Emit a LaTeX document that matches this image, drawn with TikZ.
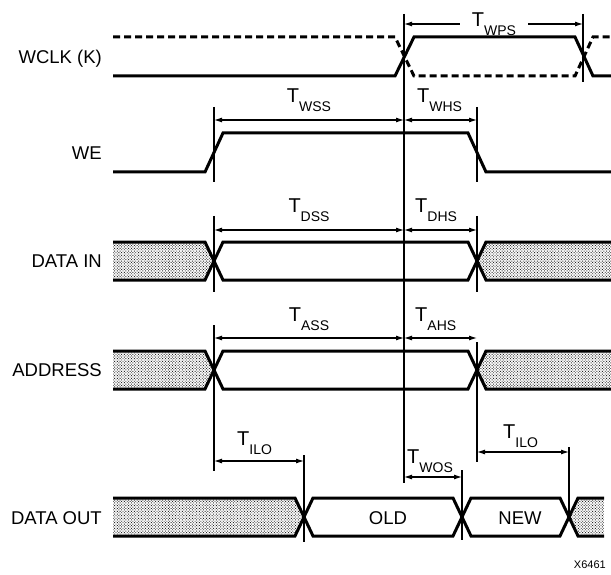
\documentclass[tikz,border=0pt]{standalone}
\usepackage{fontspec}
\setmainfont{Liberation Sans}
\usetikzlibrary{arrows.meta,patterns.meta}

\newcommand{\tlab}[1]{{\fontsize{20}{20}\selectfont T}\raisebox{-9pt}{\fontsize{14}{14}\selectfont #1}}

\tikzset{
  signal/.style={line width=3pt},
  clkalt/.style={line width=3pt, dash pattern=on 7pt off 4pt},
  stipple/.style={pattern={Dots[distance=2pt,radius=0.65pt,angle=45]}, pattern color=black!85},
  edgeline/.style={line width=1.4pt},
  dimarrow/.style={line width=1.1pt, {Latex[length=8pt,width=5pt]}-{Latex[length=8pt,width=5pt]}},
  dimhalf/.style={line width=1.1pt, -{Latex[length=8pt,width=5pt]}},
  siglabel/.style={anchor=base east, inner sep=0pt, font=\fontsize{18.5}{18.5}\selectfont},
  buslabel/.style={anchor=base, inner sep=0pt, font=\fontsize{18.5}{18.5}\selectfont},
  tlabel/.style={anchor=base, inner sep=0pt}
}

\begin{document}
\begin{tikzpicture}[x=1pt,y=-1pt]
  \useasboundingbox (0,0) rectangle (611,575);

  % signal names
  \node[siglabel] (wclk) at (102,63.5) {WCLK (K)};
  \node[siglabel] (we) at (102,159.5) {WE};
  \node[siglabel] (din) at (102,267) {DATA IN};
  \node[siglabel] (addr) at (102,376) {ADDRESS};
  \node[siglabel] (dout) at (102,524) {DATA OUT};

  % WCLK
  \draw[clkalt] (113,37) -- (395,37) -- (414,76) -- (575,76) -- (593,37) -- (611,37);
  \draw[signal] (113,76) -- (395,76) -- (414,37) -- (575,37) -- (593,76) -- (611,76);

  % WE
  \draw[signal] (113,172) -- (205,172) -- (223,133) -- (468,133) -- (486,172) -- (611,172);

  % DATA IN and ADDRESS
  \foreach \t/\m/\b in {242/261/280, 351/370/389}{
    \fill[stipple] (113,\t) -- (205,\t) -- (214,\m) -- (205,\b) -- (113,\b) -- cycle;
    \fill[stipple] (611,\t) -- (486,\t) -- (477,\m) -- (486,\b) -- (611,\b) -- cycle;
    \draw[signal] (113,\t) -- (205,\t) -- (223,\b) -- (468,\b) -- (486,\t) -- (611,\t);
    \draw[signal] (113,\b) -- (205,\b) -- (223,\t) -- (468,\t) -- (486,\b) -- (611,\b);
  }

  % DATA OUT
  \fill[stipple] (113,498) -- (295,498) -- (304,517) -- (295,536) -- (113,536) -- cycle;
  \fill[stipple] (604,498) -- (578,498) -- (569,517) -- (578,536) -- (604,536) -- cycle;
  \draw[signal] (113,498) -- (295,498) -- (313,536) -- (453,536) -- (471,498) -- (560,498) -- (578,536) -- (604,536);
  \draw[signal] (113,536) -- (295,536) -- (313,498) -- (453,498) -- (471,536) -- (560,536) -- (578,498) -- (604,498);
  \node[buslabel] (old) at (388,524) {OLD};
  \node[buslabel] (new) at (520,524) {NEW};

  % edge markers
  \foreach \x/\ya/\yb in {404/14/483, 583/14/82, 214/107/182, 477/107/182,
      214/216/292, 477/216/292, 214/325/471, 477/342/462,
      304/455/542, 462/470/540, 569/447/518}
    \draw[edgeline] (\x,\ya) -- (\x,\yb);

  % timing arrows
  \foreach \n/\l/\r/\y in {wss/214/404/120, whs/404/477/120, dss/214/404/230,
      dhs/404/477/230, ass/214/404/338, ahs/404/477/338,
      iloa/214/304/461, wos/404/462/477, ilob/477/569/452}{
    \coordinate (\n-l) at (\l,\y);
    \coordinate (\n-r) at (\r,\y);
    \draw[dimarrow] (\n-l) -- (\n-r);
  }

  % pulse width
  \coordinate (wps-l) at (404,24);
  \coordinate (wps-r) at (583,24);
  \node[inner xsep=12pt, inner ysep=0pt] (wps) at (494,24) {\tlab{WPS}};
  \draw[dimhalf] (wps) -- (wps-l);
  \draw[dimhalf] (wps) -- (wps-r);

  % timing labels
  \node[tlabel] (wss) at (309,103) {\tlab{WSS}};
  \node[tlabel, anchor=base west] (whs) at (417,103) {\tlab{WHS}};
  \node[tlabel] (dss) at (309,213) {\tlab{DSS}};
  \node[tlabel, anchor=base west] (dhs) at (415,213) {\tlab{DHS}};
  \node[tlabel] (ass) at (309,321) {\tlab{ASS}};
  \node[tlabel, anchor=base west] (ahs) at (415,321) {\tlab{AHS}};
  \node[tlabel, anchor=base west] (iloa) at (237,445) {\tlab{ILO}};
  \node[tlabel, anchor=base west] (ilob) at (503,438) {\tlab{ILO}};
  \node[tlabel, anchor=base west] (wos) at (407,463) {\tlab{WOS}};

  \node[anchor=base east, inner sep=0pt, font=\fontsize{11}{11}\selectfont] (fig) at (606,568) {X6461};
\end{tikzpicture}
\end{document}
